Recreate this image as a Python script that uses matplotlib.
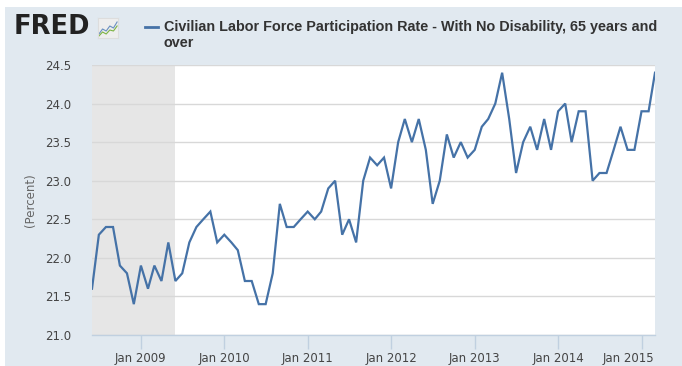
import numpy as np
import pandas as pd
import matplotlib
matplotlib.use("Agg")
import matplotlib.pyplot as plt
import matplotlib.dates as mdates
import matplotlib.transforms as mtransforms

# Monthly values, Jun 2008 .. Mar 2015 (percent)
start_month = "2008-06-01"
participation = [
    21.6, 22.3, 22.4, 22.4, 21.9, 21.8, 21.4,              # Jun-Dec 2008
    21.9, 21.6, 21.9, 21.7, 22.2, 21.7, 21.8, 22.2, 22.4, 22.5, 22.6, 22.2,  # 2009
    22.3, 22.2, 22.1, 21.7, 21.7, 21.4, 21.4, 21.8, 22.7, 22.4, 22.4, 22.5,  # 2010
    22.6, 22.5, 22.6, 22.9, 23.0, 22.3, 22.5, 22.2, 23.0, 23.3, 23.2, 23.3,  # 2011
    22.9, 23.5, 23.8, 23.5, 23.8, 23.4, 22.7, 23.0, 23.6, 23.3, 23.5, 23.3,  # 2012
    23.4, 23.7, 23.8, 24.0, 24.4, 23.8, 23.1, 23.5, 23.7, 23.4, 23.8, 23.4,  # 2013
    23.9, 24.0, 23.5, 23.9, 23.9, 23.0, 23.1, 23.1, 23.4, 23.7, 23.4, 23.4,  # 2014
    23.9, 23.9, 24.4,                                       # Jan-Mar 2015
]
recession = ("2008-06-01", "2009-06-01")
y_ticks = [21.0, 21.5, 22.0, 22.5, 23.0, 23.5, 24.0, 24.5]
tick_years = [2009, 2010, 2011, 2012, 2013, 2014, 2015]
series_name = "Civilian Labor Force Participation Rate - With No Disability, 65 years and\nover"

dates = pd.date_range(start_month, periods=len(participation), freq="MS")

BG = "#e1e9f0"
LINE = "#4572a7"
GRID = "#d8d8d8"
AXIS = "#c0d0e0"
TEXT = "#444444"

fig = plt.figure(figsize=(6.82, 3.66), dpi=100)
fig.patch.set_facecolor(BG)

# white strips at top/left edge of the screenshot
fig.add_artist(plt.Rectangle((0, 1 - 7 / 366), 1, 7 / 366, transform=fig.transFigure,
                             facecolor="white", edgecolor="none"))
fig.add_artist(plt.Rectangle((0, 0), 5 / 682, 1, transform=fig.transFigure,
                             facecolor="white", edgecolor="none"))

ax = fig.add_axes([92 / 682, 31 / 366, 563 / 682, 270 / 366])
ax.set_facecolor("white")

ax.axvspan(pd.Timestamp(recession[0]), pd.Timestamp(recession[1]),
           facecolor="#e6e6e6", edgecolor="none", zorder=0)
ax.plot(dates, participation, color=LINE, lw=1.6, zorder=3, solid_joinstyle="miter")

ax.set_xlim(dates[0], dates[-1])
ax.set_ylim(y_ticks[0], y_ticks[-1])
ax.set_yticks(y_ticks)
ax.set_yticklabels([f"{v:.1f}" for v in y_ticks])
ax.yaxis.grid(True, color=GRID, lw=1)
ax.set_axisbelow(True)

xt = [pd.Timestamp(f"{y}-01-01") for y in tick_years]
ax.set_xticks(xt)
ax.set_xticklabels([f"Jan {y}" for y in tick_years])

for s in ["top", "left", "right"]:
    ax.spines[s].set_visible(False)
ax.spines["bottom"].set_color(AXIS)
ax.spines["bottom"].set_linewidth(1)

ax.tick_params(axis="y", length=0, pad=15, labelsize=8.5, labelcolor=TEXT)
ax.tick_params(axis="x", length=10, width=1, color=AXIS, direction="out", pad=2,
               labelsize=8.5, labelcolor=TEXT)

# last x label pushed left so it stays inside the chart
last = ax.get_xticklabels()[-1]
last.set_horizontalalignment("right")
last.set_transform(last.get_transform() + mtransforms.ScaledTranslation(13 / 100, 0, fig.dpi_scale_trans))

fig.text(30 / 682, 1 - 200 / 366, "(Percent)", rotation=90, ha="center", va="center",
         fontsize=8.5, color="#666666")

# header: FRED logo + legend
fig.text(14 / 682, 1 - 27 / 366, "FRED", fontsize=18.5, fontweight="black", color="#222222",
         va="center", ha="left", family="DejaVu Sans")
icon = fig.add_axes([98 / 682, 1 - 38 / 366, 20 / 682, 20 / 366])
icon.set_facecolor("#eeeeee")
icon.set_xticks([])
icon.set_yticks([])
for s in icon.spines.values():
    s.set_color("#dddddd")
logo_blue = [0.2, 0.45, 0.35, 0.6, 0.5, 0.8]
logo_green = [0.1, 0.3, 0.2, 0.4, 0.35, 0.6]
icon.plot(logo_blue, color="#6a8fc0", lw=0.8)
icon.plot(logo_green, color="#7cb342", lw=0.8)
icon.set_ylim(0, 1)

fig.add_artist(plt.Line2D([145 / 682, 158 / 682], [1 - 27 / 366, 1 - 27 / 366],
                          transform=fig.transFigure, color=LINE, lw=2))
fig.text(164 / 682, 1 - 20.5 / 366, series_name, fontsize=10.4, fontweight="bold",
         color="#333333", va="top", ha="left", linespacing=1.15, family="Liberation Sans")

fig.savefig("out.png", dpi=100, facecolor=fig.get_facecolor())
